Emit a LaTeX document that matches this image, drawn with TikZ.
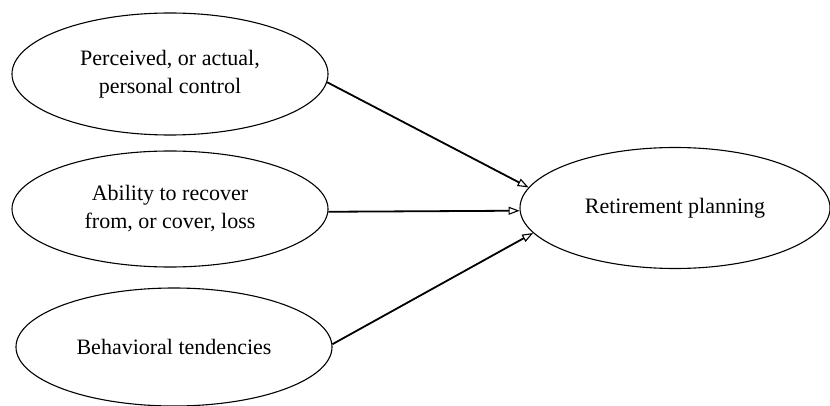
\documentclass[tikz,border=0pt]{standalone}
\usepackage{fontspec}
\setmainfont{Liberation Serif}
\usetikzlibrary{shapes.geometric,arrows.meta}
\begin{document}
\begin{tikzpicture}[x=1pt,y=-1pt,
  oval/.style={draw=black, line width=1.1pt, ellipse, inner sep=0pt, align=center,
    font=\fontsize{22}{28}\selectfont},
  link/.style={line width=1.8pt, -{Triangle[open,length=11pt,width=8pt,line width=1.1pt]}}]
\useasboundingbox (0,0) rectangle (830,406);
\node[oval, minimum width=316pt, minimum height=122pt] (pc) at (170,74) {Perceived, or actual,\\personal control};
\node[oval, minimum width=316pt, minimum height=116pt] (ab) at (170,209) {Ability to recover\\from, or cover, loss};
\node[oval, minimum width=316pt, minimum height=118pt] (bt) at (174,347) {Behavioral tendencies};
\node[oval, minimum width=310pt, minimum height=121pt] (rp) at (675,208) {Retirement planning};
\draw[link] (pc.-3.5) -- (rp.172);
\draw[link] (ab.-1.5) -- (rp.181.5);
\draw[link] (bt.1.5) -- (rp.190);
\end{tikzpicture}
\end{document}
